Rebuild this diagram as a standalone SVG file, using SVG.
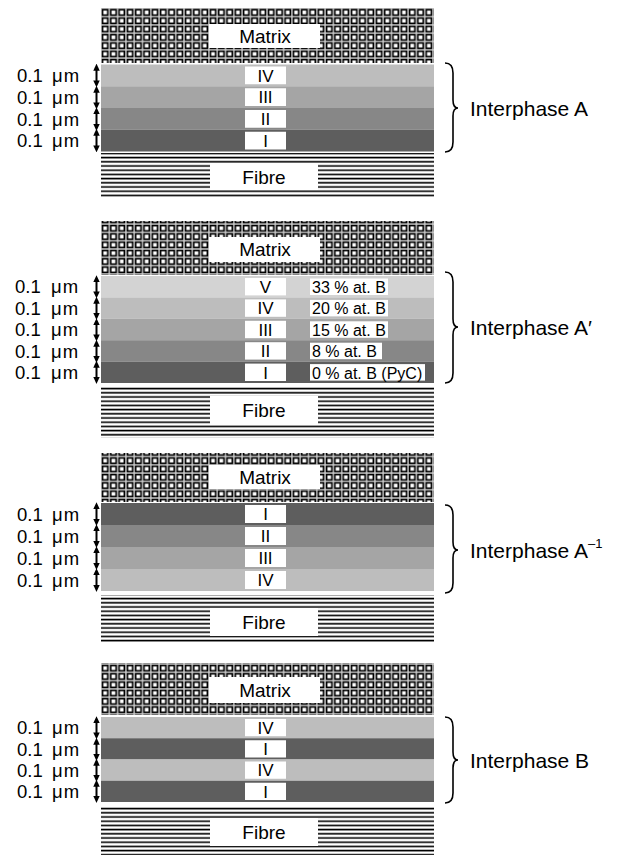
<svg xmlns="http://www.w3.org/2000/svg" width="625" height="860" viewBox="0 0 625 860">
<style>
text{font-family:"Liberation Sans",Arial,sans-serif;fill:#000}
.lbl{font-size:19px;text-anchor:middle}
.rom{font-size:17px;text-anchor:middle}
.pct{font-size:16px}
.um{font-size:18.5px}
.mu{letter-spacing:1px}
.ip{font-size:21px}
.box{fill:#fff}
.brace{fill:none;stroke:#000;stroke-width:1.6}
.arr{stroke:#000;stroke-width:2;marker-start:url(#ah);marker-end:url(#ah)}
.c5{fill:#d3d3d3}.c4{fill:#bdbdbd}.c3{fill:#a5a5a5}.c2{fill:#878787}.c1{fill:#5e5e5e}
</style>
<defs>
<pattern id="mat" width="8.3" height="8.3" patternUnits="userSpaceOnUse" x="101" y="0">
<rect width="8.3" height="8.3" fill="#d0d0d0"/>
<rect x="0.7" y="0.7" width="6.9" height="6.9" fill="#000"/>
<rect x="2.3" y="2.3" width="3.7" height="3.7" fill="#fff"/>
</pattern>
<pattern id="fib" width="20" height="4.2" patternUnits="userSpaceOnUse">
<rect width="20" height="4.2" fill="#fff"/>
<rect y="1.4" width="20" height="1.6" fill="#000"/>
</pattern>
<marker id="ah" viewBox="0 0 8 8" refX="3" refY="4" markerWidth="7" markerHeight="7.5" markerUnits="userSpaceOnUse" orient="auto-start-reverse">
<path d="M0,0.3 L8,4 L0,7.7 Z" fill="#000"/>
</marker>
</defs>

<!-- Panel 1 -->
<g id="panel-A">
<g id="matrix-A"><rect x="101" y="8" width="333" height="55" fill="url(#mat)"/><rect class="box" x="209" y="24" width="111" height="24"/><text class="lbl" x="265" y="42.5">Matrix</text></g>
<g id="layers-A">
<rect class="c4" x="101" y="64.5" width="333" height="21.75"/>
<rect class="c3" x="101" y="86.25" width="333" height="21.75"/>
<rect class="c2" x="101" y="108" width="333" height="21.75"/>
<rect class="c1" x="101" y="129.75" width="333" height="21.75"/>
<rect class="box" x="245" y="66.5" width="41" height="17.75"/><text class="rom" x="265.5" y="81.5">IV</text>
<rect class="box" x="245" y="88.25" width="41" height="17.75"/><text class="rom" x="265.5" y="103">III</text>
<rect class="box" x="245" y="110" width="41" height="17.75"/><text class="rom" x="265.5" y="125">II</text>
<rect class="box" x="245" y="131.75" width="41" height="17.75"/><text class="rom" x="265.5" y="146.5">I</text>
</g>
<g id="fibre-A"><rect x="101" y="153" width="333" height="45" fill="url(#fib)"/><rect class="box" x="210" y="164" width="108" height="26"/><text class="lbl" x="264" y="184">Fibre</text></g>
<g id="dims-A">
<text class="um" x="17" y="82">0.1 <tspan class="mu" x="52">μm</tspan></text>
<text class="um" x="17" y="103.5">0.1 <tspan class="mu" x="52">μm</tspan></text>
<text class="um" x="17" y="125.5">0.1 <tspan class="mu" x="52">μm</tspan></text>
<text class="um" x="17" y="147">0.1 <tspan class="mu" x="52">μm</tspan></text>
</g>
<text class="ip" x="470" y="115.5">Interphase A</text>
</g>

<!-- Panel 2 -->
<g id="panel-A-prime">
<g id="matrix-A-prime"><rect x="101" y="221" width="333" height="54" fill="url(#mat)"/><rect class="box" x="209" y="237" width="111" height="25"/><text class="lbl" x="265" y="256">Matrix</text></g>
<g id="layers-A-prime">
<rect class="c5" x="101" y="276" width="333" height="21.4"/>
<rect class="c4" x="101" y="297.4" width="333" height="21.4"/>
<rect class="c3" x="101" y="318.8" width="333" height="21.4"/>
<rect class="c2" x="101" y="340.2" width="333" height="21.4"/>
<rect class="c1" x="101" y="361.6" width="333" height="21.4"/>
<rect class="box" x="245" y="278" width="41" height="17.4"/><text class="rom" x="265.5" y="292.5">V</text>
<rect class="box" x="245" y="299.4" width="41" height="17.4"/><text class="rom" x="265.5" y="314">IV</text>
<rect class="box" x="245" y="320.8" width="41" height="17.4"/><text class="rom" x="265.5" y="335.5">III</text>
<rect class="box" x="245" y="342.2" width="41" height="17.4"/><text class="rom" x="265.5" y="357">II</text>
<rect class="box" x="245" y="363.6" width="41" height="17.4"/><text class="rom" x="265.5" y="378.5">I</text>
<rect class="box" x="310" y="278.5" width="78" height="16.5"/><text class="pct" x="312" y="292.5">33 % at. B</text>
<rect class="box" x="310" y="299.9" width="78" height="16.5"/><text class="pct" x="312" y="314">20 % at. B</text>
<rect class="box" x="310" y="321.3" width="78" height="16.5"/><text class="pct" x="312" y="335.5">15 % at. B</text>
<rect class="box" x="310" y="342.7" width="72" height="16.5"/><text class="pct" x="312" y="357">8 % at. B</text>
<rect class="box" x="310" y="364.1" width="115" height="16.5"/><text class="pct" x="312" y="378.5">0 % at. B (PyC)</text>
</g>
<g id="fibre-A-prime"><rect x="101" y="386" width="333" height="52" fill="url(#fib)"/><rect class="box" x="210" y="396" width="108" height="29"/><text class="lbl" x="264" y="417">Fibre</text></g>
<g id="dims-A-prime">
<text class="um" x="15" y="293">0.1 <tspan class="mu" x="51">μm</tspan></text>
<text class="um" x="15" y="314.5">0.1 <tspan class="mu" x="51">μm</tspan></text>
<text class="um" x="15" y="336">0.1 <tspan class="mu" x="51">μm</tspan></text>
<text class="um" x="15" y="357.5">0.1 <tspan class="mu" x="51">μm</tspan></text>
<text class="um" x="15" y="378.5">0.1 <tspan class="mu" x="51">μm</tspan></text>
</g>
<text class="ip" x="470" y="334.5">Interphase A′</text>
</g>

<!-- Panel 3 -->
<g id="panel-A-inv">
<g id="matrix-A-inv"><rect x="101" y="453" width="333" height="49" fill="url(#mat)"/><rect class="box" x="209" y="465" width="111" height="24"/><text class="lbl" x="265" y="483.5">Matrix</text></g>
<g id="layers-A-inv">
<rect class="c1" x="101" y="503" width="333" height="22"/>
<rect class="c2" x="101" y="525" width="333" height="22"/>
<rect class="c3" x="101" y="547" width="333" height="22"/>
<rect class="c4" x="101" y="569" width="333" height="22"/>
<rect class="box" x="245" y="505" width="41" height="18"/><text class="rom" x="265.5" y="520">I</text>
<rect class="box" x="245" y="527" width="41" height="18"/><text class="rom" x="265.5" y="542">II</text>
<rect class="box" x="245" y="549" width="41" height="18"/><text class="rom" x="265.5" y="564">III</text>
<rect class="box" x="245" y="571" width="41" height="18"/><text class="rom" x="265.5" y="586">IV</text>
</g>
<g id="fibre-A-inv"><rect x="101" y="595" width="333" height="47" fill="url(#fib)"/><rect class="box" x="210" y="608" width="108" height="28"/><text class="lbl" x="264" y="629">Fibre</text></g>
<g id="dims-A-inv">
<text class="um" x="17" y="520.5">0.1 <tspan class="mu" x="52">μm</tspan></text>
<text class="um" x="17" y="542.5">0.1 <tspan class="mu" x="52">μm</tspan></text>
<text class="um" x="17" y="564.5">0.1 <tspan class="mu" x="52">μm</tspan></text>
<text class="um" x="17" y="586.5">0.1 <tspan class="mu" x="52">μm</tspan></text>
</g>
<text class="ip" x="470" y="557.5">Interphase A<tspan font-size="13" dy="-10">–1</tspan></text>
</g>

<!-- Panel 4 -->
<g id="panel-B">
<g id="matrix-B"><rect x="101" y="663" width="333" height="52" fill="url(#mat)"/><rect class="box" x="209" y="677" width="111" height="26"/><text class="lbl" x="265" y="697">Matrix</text></g>
<g id="layers-B">
<rect class="c4" x="101" y="717" width="333" height="21.25"/>
<rect class="c1" x="101" y="738.25" width="333" height="21.25"/>
<rect class="c4" x="101" y="759.5" width="333" height="21.25"/>
<rect class="c1" x="101" y="780.75" width="333" height="21.25"/>
<rect class="box" x="245" y="719" width="41" height="17.25"/><text class="rom" x="265.5" y="733.5">IV</text>
<rect class="box" x="245" y="740.25" width="41" height="17.25"/><text class="rom" x="265.5" y="755">I</text>
<rect class="box" x="245" y="761.5" width="41" height="17.25"/><text class="rom" x="265.5" y="776">IV</text>
<rect class="box" x="245" y="782.75" width="41" height="17.25"/><text class="rom" x="265.5" y="797.5">I</text>
</g>
<g id="fibre-B"><rect x="101" y="806" width="333" height="49" fill="url(#fib)"/><rect class="box" x="210" y="818" width="108" height="28"/><text class="lbl" x="264" y="839">Fibre</text></g>
<g id="dims-B">
<text class="um" x="17" y="734">0.1 <tspan class="mu" x="52">μm</tspan></text>
<text class="um" x="17" y="755.5">0.1 <tspan class="mu" x="52">μm</tspan></text>
<text class="um" x="17" y="776.5">0.1 <tspan class="mu" x="52">μm</tspan></text>
<text class="um" x="17" y="798">0.1 <tspan class="mu" x="52">μm</tspan></text>
</g>
<text class="ip" x="470" y="767.5">Interphase B</text>
</g>

<g id="connectors">
<line class="arr" x1="96.5" y1="68" x2="96.5" y2="83"/>
<line class="arr" x1="96.5" y1="90" x2="96.5" y2="105"/>
<line class="arr" x1="96.5" y1="111.5" x2="96.5" y2="126.5"/>
<line class="arr" x1="96.5" y1="133" x2="96.5" y2="148"/>

<line class="arr" x1="96.5" y1="279.5" x2="96.5" y2="294"/>
<line class="arr" x1="96.5" y1="301" x2="96.5" y2="315.5"/>
<line class="arr" x1="96.5" y1="322.5" x2="96.5" y2="337"/>
<line class="arr" x1="96.5" y1="344" x2="96.5" y2="358.5"/>
<line class="arr" x1="96.5" y1="365" x2="96.5" y2="379.5"/>

<line class="arr" x1="96.5" y1="506.5" x2="96.5" y2="521.5"/>
<line class="arr" x1="96.5" y1="528.5" x2="96.5" y2="543.5"/>
<line class="arr" x1="96.5" y1="550.5" x2="96.5" y2="565.5"/>
<line class="arr" x1="96.5" y1="572.5" x2="96.5" y2="587.5"/>

<line class="arr" x1="96.5" y1="720.5" x2="96.5" y2="735"/>
<line class="arr" x1="96.5" y1="742" x2="96.5" y2="756.5"/>
<line class="arr" x1="96.5" y1="763" x2="96.5" y2="777.5"/>
<line class="arr" x1="96.5" y1="784" x2="96.5" y2="798.5"/>

<path class="brace" d="M445,63 Q453,63 453,73 L453,100 Q453,108 458,108 Q453,108 453,116 L453,142 Q453,152 445,152"/>
<path class="brace" d="M445,272 Q453,272 453,282 L453,319 Q453,327 458,327 Q453,327 453,335 L453,373 Q453,383 445,383"/>
<path class="brace" d="M445,505 Q453,505 453,515 L453,542 Q453,550 458,550 Q453,550 453,558 L453,583 Q453,593 445,593"/>
<path class="brace" d="M445,717 Q453,717 453,727 L453,752 Q453,760 458,760 Q453,760 453,768 L453,793 Q453,803 445,803"/>
</g>
</svg>
